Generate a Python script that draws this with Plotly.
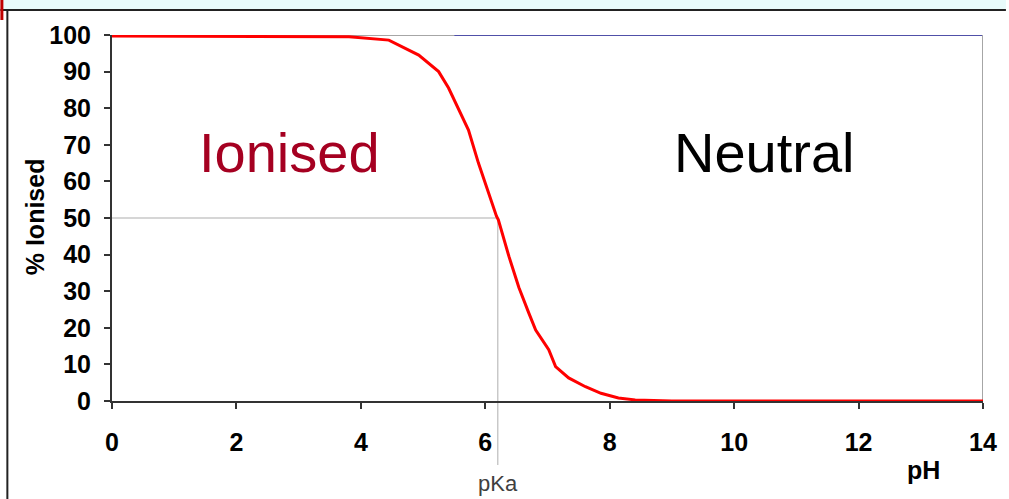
import plotly.graph_objects as go

# Curve: pH vs % ionised
ph = [0, 1, 2, 3, 3.81, 4.45, 4.93, 5.25, 5.41, 5.73, 5.89, 6.18, 6.21, 6.38,
      6.54, 6.70, 6.81, 7.02, 7.13, 7.34, 7.61, 7.86, 8.14, 8.41, 9, 10, 11, 12, 13, 14]
ionised = [99.7, 99.7, 99.7, 99.7, 99.5, 98.6, 94.5, 90, 85.5, 74, 65, 50.5, 49.5, 39.5,
           31, 24, 19.4, 14, 9.4, 6.3, 3.9, 2.1, 0.8, 0.3, 0, 0, 0, 0, 0, 0]

pka = 6.2
x_ticks = [0, 2, 4, 6, 8, 10, 12, 14]
y_ticks = [0, 10, 20, 30, 40, 50, 60, 70, 80, 90, 100]

# paper coords of the page edges
W, H, L, R, T, B = 1009, 499, 112, 23, 35, 98
pw, ph_ = W - L - R, H - T - B
def px_x(p):
    return (p - L) / pw
def px_y(p):
    return (H - B - p) / ph_

fig = go.Figure()

fig.add_trace(go.Scatter(
    x=ph, y=ionised, mode="lines",
    line=dict(color="#ff0000", width=3),
    hoverinfo="skip", cliponaxis=False,
))

shapes = [
    # top border: grey then blue
    dict(type="line", xref="x", yref="y", x0=0, x1=5.5, y0=100, y1=100,
         line=dict(color="#a6a6a6", width=2), layer="below"),
    dict(type="line", xref="x", yref="y", x0=5.5, x1=14, y0=100, y1=100,
         line=dict(color="#5050a8", width=2), layer="below"),
    # right border
    dict(type="line", xref="x", yref="y", x0=14, x1=14, y0=0, y1=100,
         line=dict(color="#a6a6a6", width=2), layer="below"),
    # pKa guides
    dict(type="line", xref="x", yref="y", x0=0, x1=pka, y0=50, y1=50,
         line=dict(color="#c8c8c8", width=1.5), layer="below"),
    dict(type="line", xref="x", yref="paper", x0=pka, x1=pka, y0=px_y(465), y1=0.5,
         line=dict(color="#c8c8c8", width=1.5), layer="below"),
    # page frame
    dict(type="rect", xref="paper", yref="paper", x0=px_x(0), x1=px_x(W), y0=px_y(10), y1=px_y(0),
         fillcolor="#e8fbfb", line=dict(width=0), layer="below"),
    dict(type="line", xref="paper", yref="paper", x0=px_x(0), x1=px_x(W), y0=px_y(10), y1=px_y(10),
         line=dict(color="#222222", width=2)),
    dict(type="line", xref="paper", yref="paper", x0=px_x(7), x1=px_x(7), y0=px_y(H), y1=px_y(10),
         line=dict(color="#222222", width=2)),
    dict(type="rect", xref="paper", yref="paper", x0=px_x(0), x1=px_x(3), y0=px_y(20), y1=px_y(0),
         fillcolor="#c00000", line=dict(width=0)),
]

annotations = [
    dict(text="Ionised", x=2.85, y=68.0, xref="x", yref="y",
         font=dict(family="Liberation Sans, Arial", size=56, color="#a50021")),
    dict(text="Neutral", x=10.48, y=68.0, xref="x", yref="y",
         font=dict(family="Liberation Sans, Arial", size=56, color="#000000")),
    dict(text="pKa", x=pka, y=px_y(484), xref="x", yref="paper",
         font=dict(family="Liberation Sans, Arial", size=22, color="#404040")),
    dict(text="<b>pH</b>", x=px_x(926), y=px_y(470), xref="paper", yref="paper",
         font=dict(family="Liberation Sans, Arial", size=25, color="#000000")),
    dict(text="<b>% Ionised</b>", x=px_x(35), y=px_y(217), xref="paper", yref="paper",
         textangle=-90,
         font=dict(family="Liberation Sans, Arial", size=25, color="#000000")),
]
for a in annotations:
    a.update(showarrow=False, xanchor="center", yanchor="middle")

fig.update_layout(
    width=W, height=H,
    margin=dict(l=L, r=R, t=T, b=B),
    paper_bgcolor="white", plot_bgcolor="white",
    showlegend=False,
    shapes=shapes,
    annotations=annotations,
    font=dict(family="Liberation Sans, Arial", color="#000000"),
)

axis_font = dict(family="Liberation Sans, Arial", size=25, color="#000000", weight="bold")
fig.update_xaxes(
    range=[0, 14], tickvals=x_ticks, ticktext=[str(v) for v in x_ticks],
    showgrid=False, zeroline=False, showline=True, linecolor="#333333", linewidth=2,
    ticks="outside", ticklen=6, tickwidth=1.5, tickcolor="#333333",
    tickfont=axis_font, ticklabelstandoff=12,
)
fig.update_yaxes(
    range=[0, 100], tickvals=y_ticks, ticktext=[str(v) for v in y_ticks],
    showgrid=False, zeroline=False, showline=True, linecolor="#333333", linewidth=2,
    ticks="outside", ticklen=6, tickwidth=1.5, tickcolor="#333333",
    tickfont=axis_font, ticklabelstandoff=8,
)

fig.write_html("out.html", config={"displayModeBar": False},
               post_script="document.body.style.margin='0px';")
